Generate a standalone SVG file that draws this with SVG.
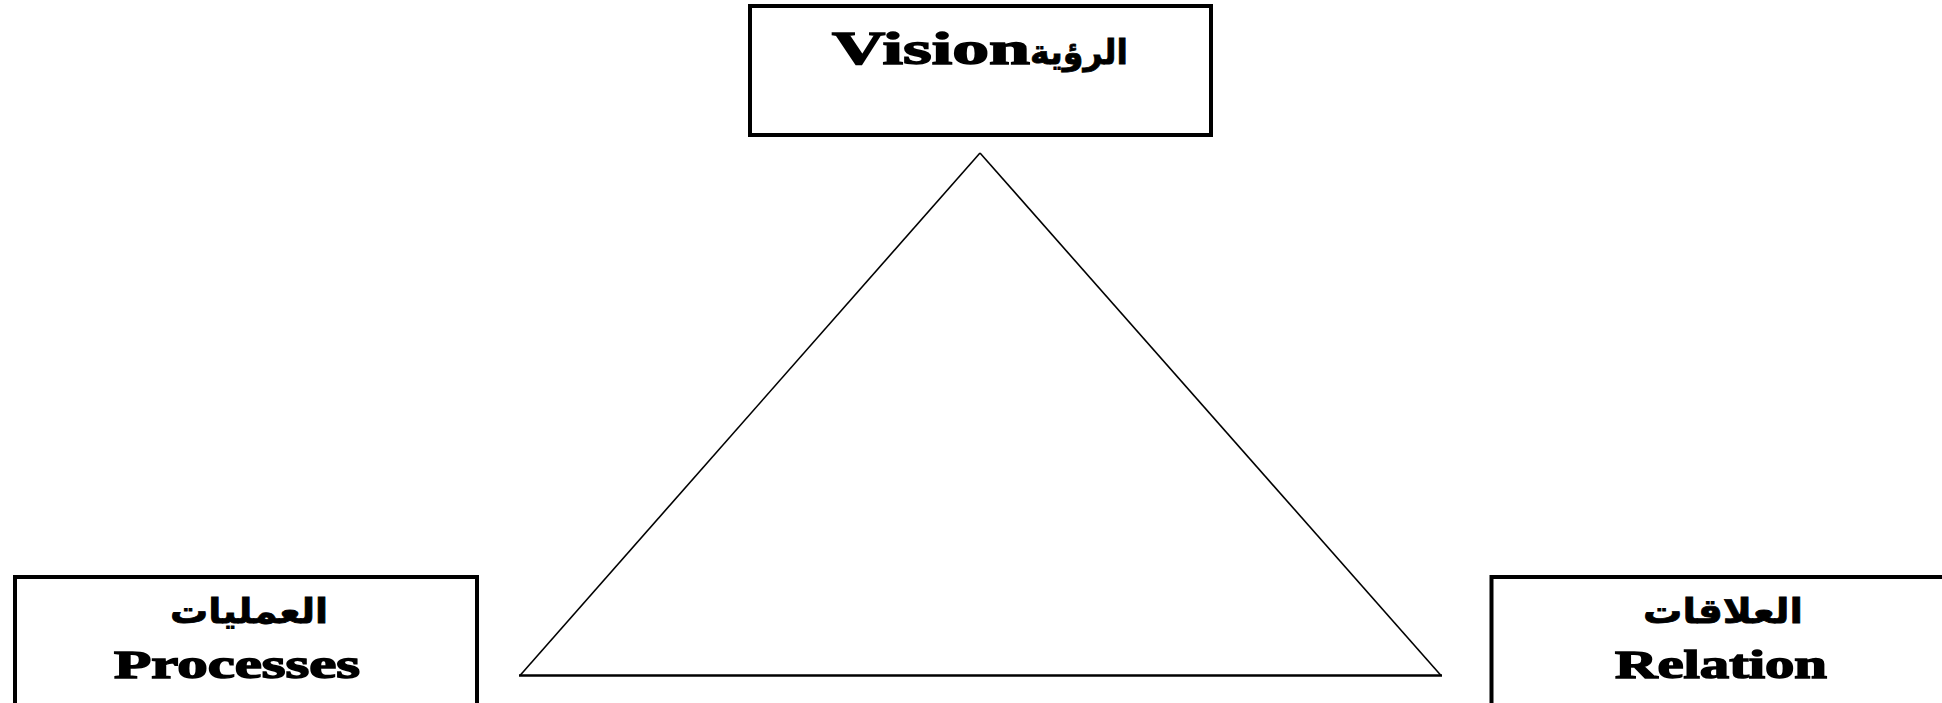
<svg xmlns="http://www.w3.org/2000/svg" width="1942" height="703" viewBox="0 0 1942 703">
<style>
.box{fill:#fff;stroke:#000;stroke-width:4}
.lat{font-family:"Liberation Serif","Times New Roman",serif;font-weight:bold;fill:#000;stroke:#000;stroke-width:1.5}
.ar{font-family:"DejaVu Sans","Noto Sans",sans-serif;font-weight:bold;fill:#000;stroke:#000;stroke-width:0.8}
.tri{fill:none;stroke:#000;stroke-width:1.6}
.base{stroke:#000;stroke-width:2.6}
</style>
<rect width="1942" height="703" fill="#fff"/>
<g id="connectors">
<line class="tri" x1="980" y1="153" x2="520" y2="675.5"/>
<line class="tri" x1="980" y1="153" x2="1441" y2="675.5"/>
<line class="base" x1="519" y1="675.5" x2="1442" y2="675.5"/>
</g>
<g id="vision">
<rect class="box" x="750" y="6" width="461" height="129"/>
<text class="lat" x="832" y="64" font-size="47" textLength="198" lengthAdjust="spacingAndGlyphs">Vision</text>
<text class="ar" x="1079" y="64" font-size="34" text-anchor="middle" textLength="98" lengthAdjust="spacingAndGlyphs" direction="rtl">الرؤية</text>
</g>
<g id="processes">
<rect class="box" x="15" y="577" width="462" height="150"/>
<text class="ar" x="249" y="623" font-size="34" text-anchor="middle" textLength="158" lengthAdjust="spacingAndGlyphs" direction="rtl">العمليات</text>
<text class="lat" x="237" y="678" font-size="41" text-anchor="middle" textLength="246" lengthAdjust="spacingAndGlyphs">Processes</text>
</g>
<g id="relation">
<rect class="box" x="1491.5" y="577" width="470" height="150"/>
<text class="ar" x="1723" y="623" font-size="34" text-anchor="middle" textLength="160" lengthAdjust="spacingAndGlyphs" direction="rtl">العلاقات</text>
<text class="lat" x="1721" y="678" font-size="41" text-anchor="middle" textLength="212" lengthAdjust="spacingAndGlyphs">Relation</text>
</g>
</svg>
